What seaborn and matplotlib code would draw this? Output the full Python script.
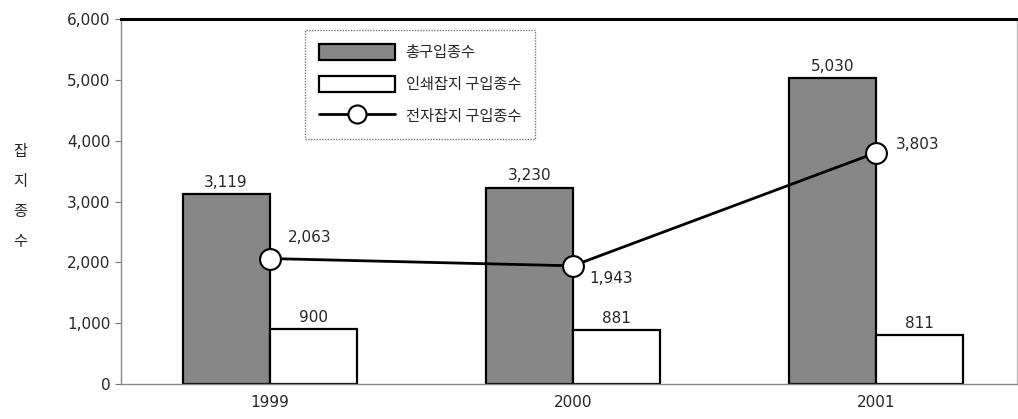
import matplotlib
matplotlib.use("Agg")
import matplotlib.pyplot as plt
from matplotlib.patches import Patch
from matplotlib.lines import Line2D
import seaborn as sns
import pandas as pd

# Journal acquisition counts by year
years = ["1999", "2000", "2001"]
total_titles = [3119, 3230, 5030]        # 총구입종수
print_titles = [900, 881, 811]           # 인쇄잡지 구입종수
electronic_titles = [2063, 1943, 3803]   # 전자잡지 구입종수

series_names = ["총구입종수", "인쇄잡지 구입종수", "전자잡지 구입종수"]
y_ticks = [0, 1000, 2000, 3000, 4000, 5000, 6000]

sns.set_theme(style="white")
plt.rcParams["font.family"] = ["Noto Sans CJK KR", "DejaVu Sans"]

df = pd.DataFrame({
    "year": years * 2,
    "count": total_titles + print_titles,
    "series": [series_names[0]] * 3 + [series_names[1]] * 3,
})

fig = plt.figure(figsize=(10.18, 4.19), dpi=100)
ax = fig.add_axes([0.119, 0.0835, 0.880, 0.871])

bar_colors = {series_names[0]: "#878787", series_names[1]: "#ffffff"}
sns.barplot(data=df, x="year", y="count", hue="series", palette=bar_colors,
            width=0.575, gap=0, dodge=True, edgecolor="black", linewidth=1.6,
            legend=False, ax=ax)

x_pos = list(range(len(years)))
ax.plot(x_pos, electronic_titles, color="black", linewidth=2.0, marker="o",
        markersize=15, markerfacecolor="white", markeredgecolor="black",
        markeredgewidth=1.5, zorder=5)

# Value labels above bars
for container in ax.containers:
    ax.bar_label(container, labels=[f"{v.get_height():,.0f}" for v in container],
                 padding=3, fontsize=11, family="DejaVu Sans")

# Value labels next to the line markers
line_offsets = [(13, 15), (12, -9), (14, 6)]
for x, v, (dx, dy) in zip(x_pos, electronic_titles, line_offsets):
    ax.annotate(f"{v:,}", (x, v), xytext=(dx, dy), textcoords="offset points",
                ha="left", va="center", fontsize=11, family="DejaVu Sans")

ax.set_ylim(0, 6000)
ax.set_xlim(-0.49, 2.465)
ax.set_yticks(y_ticks)
ax.set_yticklabels([f"{t:,}" for t in y_ticks], fontsize=11, family="DejaVu Sans")
ax.set_xticks(x_pos)
ax.set_xticklabels(years, fontsize=11, family="DejaVu Sans")
ax.set_xlabel("")
ax.set_ylabel("")
ax.tick_params(axis="y", length=4, width=0.8, color="#777777", direction="out", left=True)
ax.tick_params(axis="x", length=0, pad=8)

ax.spines["top"].set_color("black")
ax.spines["top"].set_linewidth(2.2)
for side in ["left", "bottom", "right"]:
    ax.spines[side].set_color("#888888")
    ax.spines[side].set_linestyle((0, (1, 1)))
    ax.spines[side].set_linewidth(1.0)
ax.spines["right"].set_color("#bbbbbb")

fig.text(0.02, 0.53, "잡\n지\n종\n수", ha="center", va="center",
         fontsize=11, linespacing=2.0)

handles = [
    Patch(facecolor="#878787", edgecolor="black", linewidth=1.6),
    Patch(facecolor="white", edgecolor="black", linewidth=1.6),
    Line2D([0], [0], color="black", linewidth=2.0, marker="o", markersize=13,
           markerfacecolor="white", markeredgecolor="black", markeredgewidth=1.5),
]
leg = ax.legend(handles, series_names, loc="upper left",
                bbox_to_anchor=(0.205, 0.97), fontsize=11, frameon=True,
                fancybox=False, handlelength=5.0, handleheight=1.3,
                borderpad=0.9, labelspacing=0.95, handletextpad=0.7,
                borderaxespad=0)
leg.get_frame().set_edgecolor("#555555")
leg.get_frame().set_linewidth(1.0)
leg.get_frame().set_linestyle((0, (1, 1)))

fig.savefig("out.png", dpi=100)
